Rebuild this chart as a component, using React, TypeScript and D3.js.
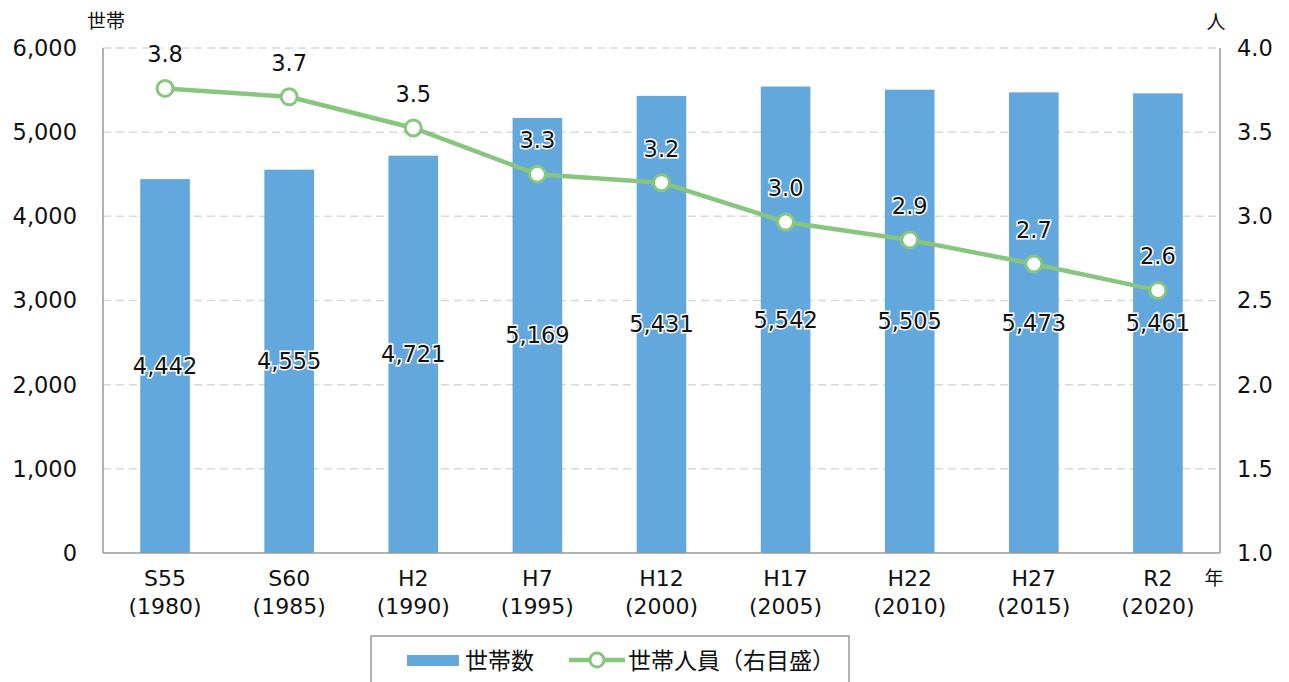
import { useEffect, useRef } from "react";
import * as d3 from "d3";

const years = ["S55", "S60", "H2", "H7", "H12", "H17", "H22", "H27", "R2"];
const westernYears = ["1980", "1985", "1990", "1995", "2000", "2005", "2010", "2015", "2020"];
const households = [4442, 4555, 4721, 5169, 5431, 5542, 5505, 5473, 5461];
const personsPerHousehold = [3.76, 3.71, 3.525, 3.25, 3.2, 2.966, 2.86, 2.717, 2.56];
const leftTicks = [0, 1000, 2000, 3000, 4000, 5000, 6000];
const rightTicks = [1.0, 1.5, 2.0, 2.5, 3.0, 3.5, 4.0];

export default function App() {
  const ref = useRef<SVGSVGElement>(null);

  useEffect(() => {
    const svg = d3.select(ref.current);
    svg.selectAll("*").remove();

    const width = 1289;
    const height = 682;
    const margin = { top: 48, right: 69, bottom: 129, left: 103 };
    const font = "'DejaVu Sans', 'Noto Sans CJK JP', sans-serif";
    const barColor = "#63a8dc";
    const lineColor = "#88c57e";
    const fs = 22.5;

    svg.attr("width", width).attr("height", height).style("font-family", font);

    const x = d3.scaleBand()
      .domain(years)
      .range([margin.left, width - margin.right])
      .padding(0);

    const y = d3.scaleLinear()
      .domain([0, 6000])
      .range([height - margin.bottom, margin.top]);

    const y2 = d3.scaleLinear()
      .domain([1, 4])
      .range([height - margin.bottom, margin.top]);

    const barW = x.bandwidth() * 0.4;
    const cx = (d: string) => x(d)! + x.bandwidth() / 2;

    // grid
    svg.append("g")
      .selectAll("line")
      .data(leftTicks.filter(t => t > 0))
      .join("line")
      .attr("x1", margin.left)
      .attr("x2", width - margin.right)
      .attr("y1", d => y(d))
      .attr("y2", d => y(d))
      .attr("stroke", "#d9d9d9")
      .attr("stroke-width", 1.5)
      .attr("stroke-dasharray", "8,5");

    // bars
    svg.append("g")
      .selectAll("rect")
      .data(households)
      .join("rect")
      .attr("x", (d, i) => cx(years[i]) - barW / 2)
      .attr("y", d => y(d))
      .attr("width", barW)
      .attr("height", d => y(0) - y(d))
      .attr("fill", barColor);

    // axes lines
    const axisColor = "#999";
    svg.append("line")
      .attr("x1", margin.left).attr("x2", margin.left)
      .attr("y1", margin.top).attr("y2", y(0))
      .attr("stroke", axisColor).attr("stroke-width", 1.5);
    svg.append("line")
      .attr("x1", width - margin.right).attr("x2", width - margin.right)
      .attr("y1", margin.top).attr("y2", y(0))
      .attr("stroke", axisColor).attr("stroke-width", 1.5);
    svg.append("line")
      .attr("x1", margin.left).attr("x2", width - margin.right)
      .attr("y1", y(0)).attr("y2", y(0))
      .attr("stroke", axisColor).attr("stroke-width", 1.5);

    // left tick labels
    svg.append("g")
      .selectAll("text")
      .data(leftTicks)
      .join("text")
      .attr("x", 77)
      .attr("y", d => y(d))
      .attr("dy", "0.35em")
      .attr("text-anchor", "end")
      .attr("font-size", fs)
      .attr("fill", "#111")
      .text(d => d3.format(",")(d));

    // right tick labels
    svg.append("g")
      .selectAll("text")
      .data(rightTicks)
      .join("text")
      .attr("x", 1237)
      .attr("y", d => y2(d))
      .attr("dy", "0.35em")
      .attr("font-size", fs)
      .attr("fill", "#111")
      .text(d => d.toFixed(1));

    // x labels
    const xl = svg.append("g")
      .selectAll("text")
      .data(years)
      .join("text")
      .attr("text-anchor", "middle")
      .attr("font-size", 22)
      .attr("fill", "#111");
    xl.append("tspan")
      .attr("x", d => cx(d))
      .attr("y", 586)
      .text(d => d);
    xl.append("tspan")
      .attr("x", d => cx(d))
      .attr("y", 614)
      .text((d, i) => `(${westernYears[i]})`);

    // unit labels
    svg.append("text").attr("x", 106).attr("y", 28).attr("text-anchor", "middle")
      .attr("font-size", 19).attr("fill", "#111").text("世帯");
    svg.append("text").attr("x", 1216).attr("y", 29).attr("text-anchor", "middle")
      .attr("font-size", 19).attr("fill", "#111").text("人");
    svg.append("text").attr("x", 1214).attr("y", 585).attr("text-anchor", "middle")
      .attr("font-size", 19).attr("fill", "#111").text("年");

    // bar value labels
    svg.append("g")
      .selectAll("text")
      .data(households)
      .join("text")
      .attr("x", (d, i) => cx(years[i]))
      .attr("y", d => (y(d) + y(0)) / 2)
      .attr("dy", "0.35em")
      .attr("text-anchor", "middle")
      .attr("font-size", fs)
      .attr("fill", "#111")
      .attr("stroke", "#fff")
      .attr("stroke-width", 3)
      .attr("paint-order", "stroke")
      .text(d => d3.format(",")(d));

    // line
    const line = d3.line<number>()
      .x((d, i) => cx(years[i]))
      .y(d => y2(d));
    svg.append("path")
      .datum(personsPerHousehold)
      .attr("d", line)
      .attr("fill", "none")
      .attr("stroke", lineColor)
      .attr("stroke-width", 4.5);
    svg.append("g")
      .selectAll("circle")
      .data(personsPerHousehold)
      .join("circle")
      .attr("cx", (d, i) => cx(years[i]))
      .attr("cy", d => y2(d))
      .attr("r", 8)
      .attr("fill", "#fff")
      .attr("stroke", lineColor)
      .attr("stroke-width", 3);

    // line value labels
    svg.append("g")
      .selectAll("text")
      .data(personsPerHousehold)
      .join("text")
      .attr("x", (d, i) => cx(years[i]))
      .attr("y", d => y2(d) - 34)
      .attr("dy", "0.35em")
      .attr("text-anchor", "middle")
      .attr("font-size", fs)
      .attr("fill", "#111")
      .attr("stroke", "#fff")
      .attr("stroke-width", 3)
      .attr("paint-order", "stroke")
      .text(d => d.toFixed(1));

    // legend
    const lg = svg.append("g");
    lg.append("rect")
      .attr("x", 371).attr("y", 636)
      .attr("width", 478).attr("height", 60)
      .attr("fill", "#fff")
      .attr("stroke", "#999")
      .attr("stroke-width", 1.5);
    lg.append("rect")
      .attr("x", 407).attr("y", 655)
      .attr("width", 52).attr("height", 11)
      .attr("fill", barColor);
    lg.append("text")
      .attr("x", 465).attr("y", 661).attr("dy", "0.35em")
      .attr("font-size", 23).attr("fill", "#111")
      .style("font-family", "'Noto Sans CJK JP', sans-serif")
      .text("世帯数");
    lg.append("line")
      .attr("x1", 569).attr("x2", 625)
      .attr("y1", 660).attr("y2", 660)
      .attr("stroke", lineColor).attr("stroke-width", 4.5);
    lg.append("circle")
      .attr("cx", 597).attr("cy", 660).attr("r", 7)
      .attr("fill", "#fff").attr("stroke", lineColor).attr("stroke-width", 3);
    lg.append("text")
      .attr("x", 628).attr("y", 661).attr("dy", "0.35em")
      .attr("font-size", 23).attr("fill", "#111")
      .style("font-family", "'Noto Sans CJK JP', sans-serif")
      .text("世帯人員（右目盛）");
  }, []);

  return <svg ref={ref} style={{ position: "absolute", left: 0, top: 0 }}></svg>;
}
